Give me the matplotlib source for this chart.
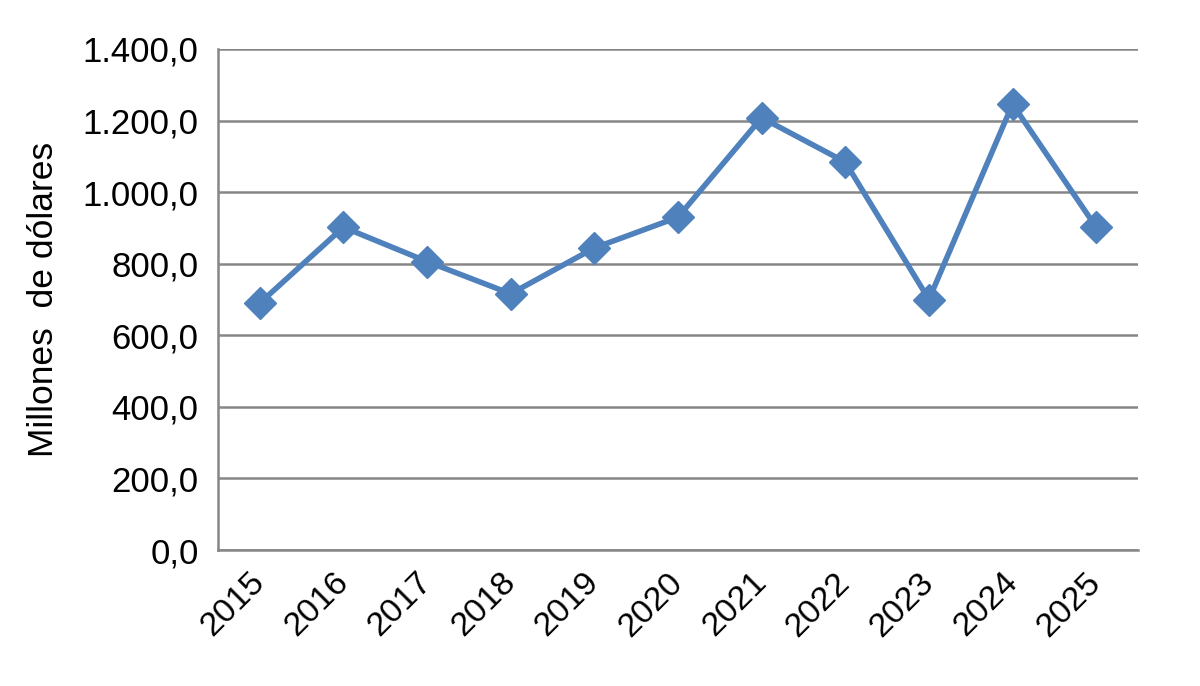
import matplotlib
matplotlib.use("Agg")
import matplotlib.pyplot as plt
from matplotlib.ticker import FuncFormatter, MultipleLocator

years = ["2015", "2016", "2017", "2018", "2019", "2020", "2021", "2022", "2023", "2024", "2025"]
values = [690, 902, 806, 716, 844, 930, 1208, 1084, 700, 1246, 902]

plt.rcParams['font.family'] = ['Liberation Sans', 'DejaVu Sans']

fig = plt.figure(figsize=(12, 6.86), dpi=100)
ax = fig.add_axes([218/1200, 1-550/686, (1138-218)/1200, (550-49)/686])

x = list(range(len(years)))
ax.plot(x, values, color='#4F81BD', linewidth=4, marker='D', markersize=16,
        markerfacecolor='#4F81BD', markeredgecolor='#4F81BD', zorder=3)

ax.set_xlim(-0.5, len(years) - 0.5)
ax.set_ylim(0, 1400)
ax.yaxis.set_major_locator(MultipleLocator(200))

def fmt(v, pos):
    s = f"{v:,.1f}"
    return s.replace(",", "X").replace(".", ",").replace("X", ".")

ax.yaxis.set_major_formatter(FuncFormatter(fmt))
ax.set_xticks(x)
ax.set_xticklabels(years, rotation=45, ha='right', va='center', rotation_mode='anchor')

ax.grid(axis='y', color='#868686', linewidth=1.8, zorder=0)
ax.set_axisbelow(True)
for s in ['top', 'right']:
    ax.spines[s].set_visible(False)
for s in ['left', 'bottom']:
    ax.spines[s].set_color('#868686')
    ax.spines[s].set_linewidth(1.8)

ax.tick_params(axis='both', length=0, colors='black')
ax.tick_params(axis='y', pad=14, labelsize=25)
ax.tick_params(axis='x', pad=20, labelsize=24.5)

ax.set_ylabel("Millones  de dólares", fontsize=25.5, labelpad=16)

fig.savefig("out.png", dpi=100)
